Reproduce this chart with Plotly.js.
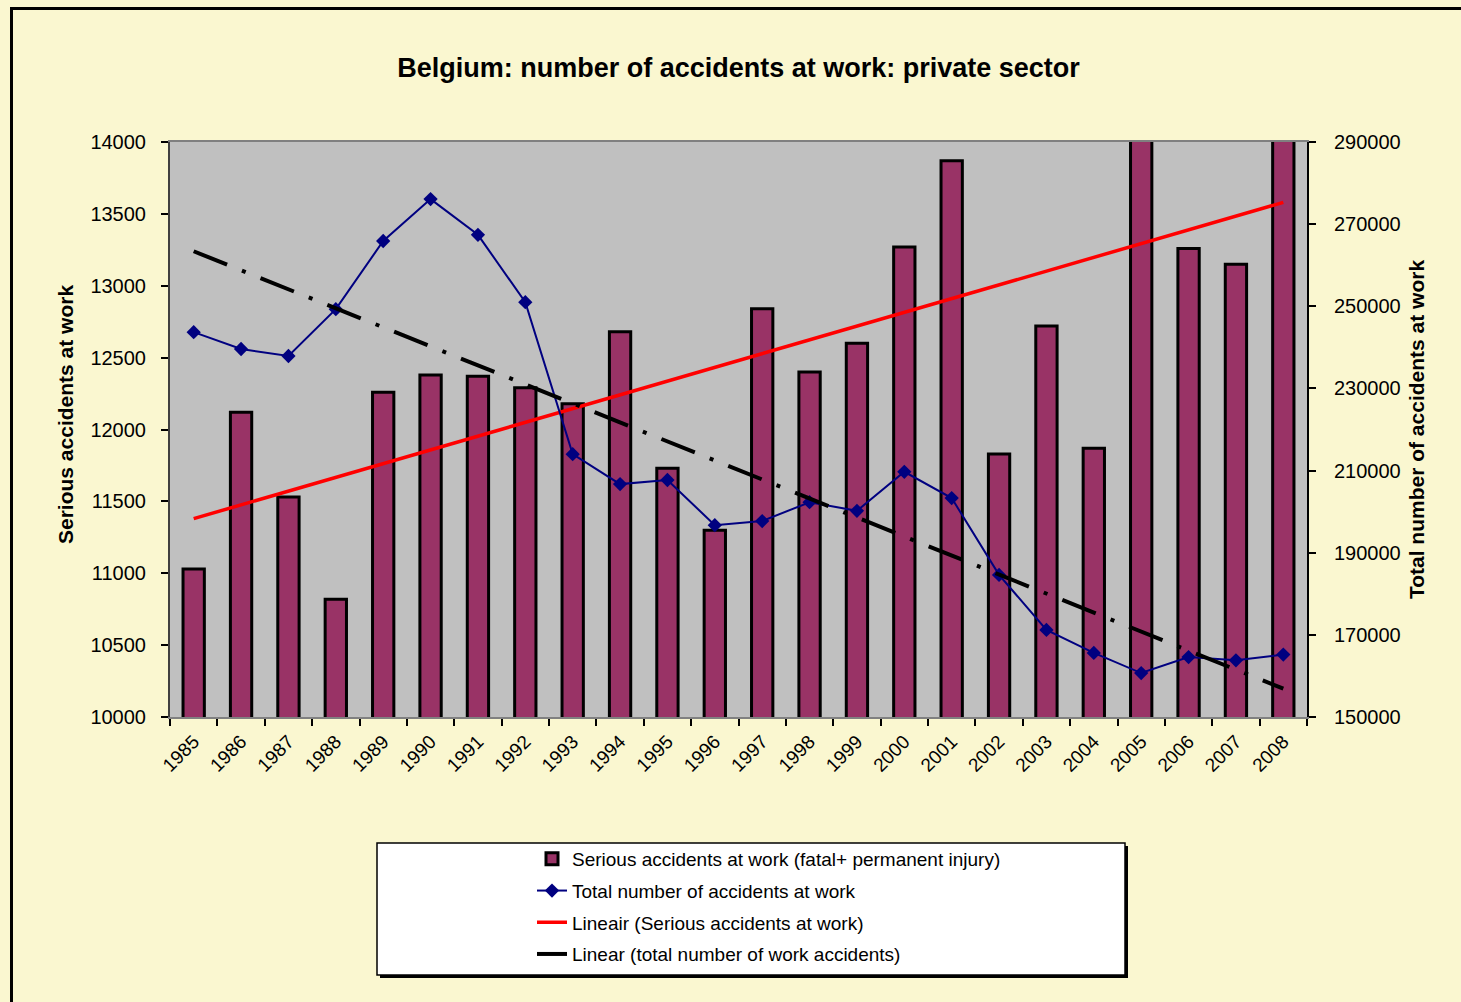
<!DOCTYPE html>
<html>
<head>
<meta charset="utf-8">
<script src="https://cdn.plot.ly/plotly-3.0.1.min.js"></script>
<style>
  html, body { margin: 0; padding: 0; background: #FAF7D0; overflow: hidden; }
  #wrap { position: relative; width: 1461px; height: 1002px; }
  #chart { position: absolute; left: 0; top: 0; width: 1461px; height: 1002px; }
  #frame { position: absolute; left: 10px; top: 7px; width: 3000px; height: 3000px;
           border-left: 3px solid #000; border-top: 3px solid #000; pointer-events: none; }
</style>
</head>
<body>
<div id="wrap">
  <div id="frame"></div>
  <div id="chart"></div>
</div>
<script>
const years = ['1985','1986','1987','1988','1989','1990','1991','1992','1993','1994','1995','1996',
               '1997','1998','1999','2000','2001','2002','2003','2004','2005','2006','2007','2008'];
const seriousAccidents = [11030, 12120, 11530, 10820, 12260, 12380, 12370, 12290, 12180, 12680, 11730, 11300,
                          12840, 12400, 12600, 13270, 13870, 11830, 12720, 11870, 14400, 13260, 13150, 14600];
const totalAccidents = [243700, 239600, 237900, 249300, 265900, 276100, 267400, 251000, 214000, 206700, 207700, 196700,
                        197700, 202300, 200200, 209700, 203300, 184600, 171200, 165600, 160700, 164600, 163800, 165200];
const trendYears = ['1985', '2008'];
const seriousTrend = [11380, 13580];
const totalTrend = [263400, 156900];

const FONT = 'Liberation Sans, Arial, sans-serif';
const PX0 = 170, PW = 1137, PY1 = 717, PH = 575;
const px = v => (v - PX0) / PW;
const py = v => (PY1 - v) / PH;

const traces = [
  { type: 'bar', x: years, y: seriousAccidents, yaxis: 'y', name: 'Serious accidents at work (fatal+ permanent injury)',
    marker: { color: '#993366', line: { color: '#000000', width: 3 } }, legendgroup: 'a' },
  { type: 'scatter', mode: 'lines+markers', x: years, y: totalAccidents, yaxis: 'y2', name: 'Total number of accidents at work',
    line: { color: '#000080', width: 2 }, marker: { symbol: 'diamond', size: 11, color: '#000080' }, legendgroup: 'b' },
  { type: 'scatter', mode: 'lines', x: trendYears, y: seriousTrend, yaxis: 'y', name: 'Lineair (Serious accidents at work)',
    line: { color: '#FF0000', width: 3.5 }, legendgroup: 'c' },
  { type: 'scatter', mode: 'lines', x: trendYears, y: totalTrend, yaxis: 'y2', name: 'Linear (total number of work accidents)',
    line: { color: '#000000', width: 4, dash: '36px,16px,4px,16px' }, legendgroup: 'd' }
];

const layout = {
  width: 1461, height: 1002,
  paper_bgcolor: 'rgba(0,0,0,0)', plot_bgcolor: '#C0C0C0',
  margin: { l: 170, r: 1461 - 1307, t: 142, b: 1002 - 717, pad: 0 },
  font: { family: FONT, color: '#000', size: 17 },
  showlegend: true,
  bargap: 0.55,
  title: { text: 'Belgium: number of accidents at work: private sector', font: { family: FONT, size: 27, weight: 'bold', color: '#000' },
           x: 0.5, xref: 'paper', xanchor: 'center', y: 1 - 68 / 1002, yref: 'container', yanchor: 'middle' },
  xaxis: { type: 'category', range: [-0.5, 23.5], autorange: false, tickson: 'boundaries', ticks: 'outside', ticklen: 7, tickwidth: 2, tickcolor: '#000',
           showline: true, linecolor: '#808080', linewidth: 2, mirror: true, showgrid: false, zeroline: false,
           tickangle: -45, tickfont: { family: FONT, size: 19, color: '#000' }, ticklabelstandoff: 4 },
  yaxis: { range: [10000, 14000], autorange: false, tick0: 10000, dtick: 500, tickformat: 'd', ticks: 'outside', ticklen: 7, tickwidth: 2, tickcolor: '#000',
           showline: true, linecolor: '#404040', linewidth: 2, showgrid: false, zeroline: false,
           tickfont: { family: FONT, size: 20, color: '#000' }, ticklabelstandoff: 11 },
  yaxis2: { range: [150000, 290000], autorange: false, tick0: 150000, dtick: 20000, tickformat: 'd', overlaying: 'y', side: 'right',
            ticks: 'outside', ticklen: 7, tickwidth: 2, tickcolor: '#000',
            showline: true, linecolor: '#000', linewidth: 2, showgrid: false, zeroline: false,
            tickfont: { family: FONT, size: 20, color: '#000' }, ticklabelstandoff: 14,
            title: { text: 'Total number of accidents at work', font: { family: FONT, size: 21, weight: 'bold', color: '#000' }, standoff: 10 } },
  annotations: [
    { text: 'Serious accidents at work', xref: 'paper', yref: 'paper', x: px(65), y: py(415), textangle: -90,
      showarrow: false, xanchor: 'center', yanchor: 'middle', font: { family: FONT, size: 21, weight: 'bold', color: '#000' } }
  ],
  legend: { x: px(532), y: py(840), xanchor: 'left', yanchor: 'top', orientation: 'v',
            bgcolor: 'rgba(0,0,0,0)', borderwidth: 0, traceorder: 'grouped', tracegroupgap: 4,
            font: { family: FONT, size: 19, color: '#000' } },
  shapes: [
    { type: 'rect', xref: 'paper', yref: 'paper', x0: px(380), x1: px(1128), y0: py(978), y1: py(846),
      fillcolor: '#000', line: { width: 0 }, layer: 'above' },
    { type: 'rect', xref: 'paper', yref: 'paper', x0: px(377), x1: px(1125), y0: py(975), y1: py(843),
      fillcolor: '#FFFFFF', line: { color: '#000', width: 1.5 }, layer: 'above' }
  ]
};

Plotly.newPlot('chart', traces, layout, { displayModeBar: false, staticPlot: true });
</script>
</body>
</html>
